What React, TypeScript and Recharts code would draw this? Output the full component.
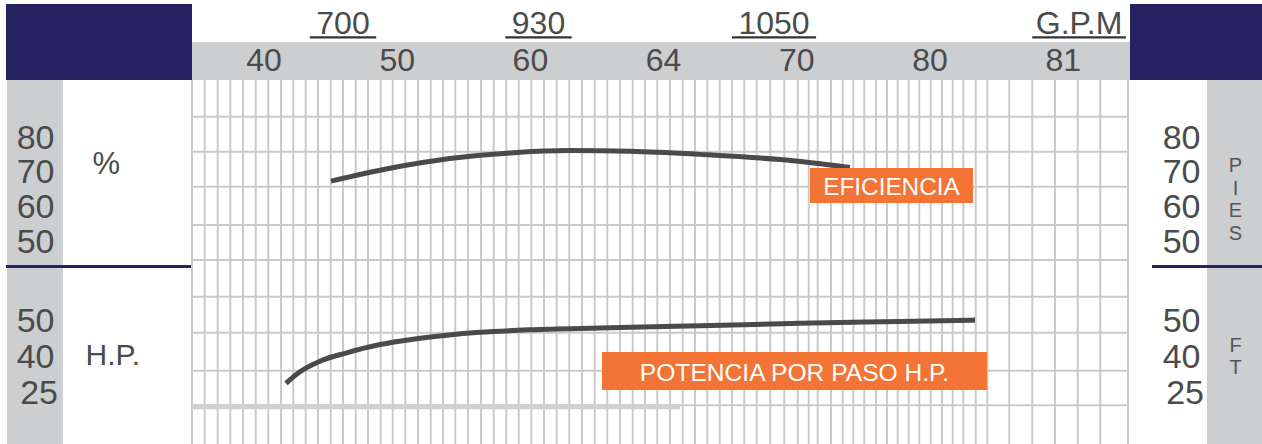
import React from 'react';
import { ComposedChart, Line, XAxis, YAxis, CartesianGrid, ReferenceLine } from 'recharts';

// ---------- data ----------
const flowTickLabels = ['40', '50', '60', '64', '70', '80', '81'];
const flowTickPositions = [0, 1, 2, 3, 4, 5, 6];

const gpmTickLabels = ['700', '930', '1050', 'G.P.M'];
const gpmTickPositions = [0.593, 2.061, 3.829, 6.119];

const effTicks = [50, 60, 70, 80];
const hpTickValues = [25, 40, 50];
const hpTickRows = [0, 1, 2];

const rightUpperTitle = 'PIES';
const rightLowerTitle = 'FT';
const effUnit = '%';
const hpUnit = 'H.P.';
const effName = 'EFICIENCIA';
const hpName = 'POTENCIA POR PASO H.P.';

const effCurve = [
  { x: 0.503, eff: 67.0 },
  { x: 0.946, eff: 70.7 },
  { x: 1.396, eff: 73.5 },
  { x: 1.847, eff: 75.1 },
  { x: 2.297, eff: 75.8 },
  { x: 2.748, eff: 75.6 },
  { x: 3.273, eff: 74.7 },
  { x: 3.874, eff: 73.2 },
  { x: 4.399, eff: 70.9 },
];

const hpCurve = [
  { x: 0.165, hp: 28.2 },
  { x: 0.27, hp: 33.0 },
  { x: 0.42, hp: 37.4 },
  { x: 0.621, hp: 40.6 },
  { x: 0.871, hp: 42.9 },
  { x: 1.119, hp: 44.4 },
  { x: 1.372, hp: 45.5 },
  { x: 1.622, hp: 46.3 },
  { x: 1.997, hp: 47.0 },
  { x: 2.523, hp: 47.5 },
  { x: 3.273, hp: 48.1 },
  { x: 4.024, hp: 48.8 },
  { x: 4.775, hp: 49.3 },
  { x: 5.338, hp: 49.7 },
];

const gridColumns = [
  -0.5405, -0.4452, -0.3476, -0.253, -0.1577, -0.0623, 0.0323, 0.1276, 0.22, 0.3131,
  0.4054, 0.5008, 0.5931, 0.6884, 0.7808, 0.8761, 0.9662, 1.0608, 1.1562, 1.2515,
  1.3438, 1.4362, 1.5315, 1.6291, 1.7245, 1.8191, 1.9122, 2.0068, 2.1021, 2.1974,
  2.292, 2.3874, 2.4827, 2.5773, 2.6727, 2.768, 2.8604, 2.9527, 3.048, 3.1434,
  3.2357, 3.3281, 3.4212, 3.5135, 3.6059, 3.699, 3.8011, 3.9062, 4.0068, 4.0893,
  4.1569, 4.2568, 4.3446, 4.4242, 4.5068, 4.5946, 4.6772, 4.7575, 4.8401, 4.9197,
  5.0053, 5.0901, 5.1704, 5.25, 5.3431, 5.4302, 5.5953, 5.768, 5.9384, 6.1089,
  6.2785, 6.4865,
];
const gridRows = [85.57, 75.47, 65.38, 54.33, 44.23, 33.65, 23.26, 12.3, 2.35];
const baseBandY = 1.92;
const baseBandX = [-0.5405, 3.123];

// ---------- scales / helpers ----------
const X_DOMAIN: [number, number] = [-0.5405, 6.4865];
const EFF_DOMAIN: [number, number] = [-8.846, 96.154];
const ROW_DOMAIN: [number, number] = [-1.4722, 8.6389];

const hpToRow = (v: number) => {
  const t = hpTickValues;
  let i = 0;
  while (i < t.length - 2 && v > t[i + 1]) i++;
  return i + (v - t[i]) / (t[i + 1] - t[i]);
};
const hpRowsData = hpCurve.map((d) => ({ x: d.x, row: hpToRow(d.hp) }));

const FONT = '"Liberation Sans", Arial, Helvetica, sans-serif';
const INK = '#4b4b4b';
const NAVY = '#262262';
const GRAY = '#cdcecf';
const ORANGE = '#F37435';

const charW: Record<string, number> = { '.': 0.278, G: 0.778, P: 0.667, M: 0.833 };
const textWidth = (s: string, fs: number) =>
  s.split('').reduce((a, c) => a + (charW[c] ?? 0.556), 0) * fs;

// ---------- ticks ----------
const FlowTick = (props: any) => {
  const { x, payload } = props;
  const i = flowTickPositions.indexOf(payload.value);
  return (
    <text x={x} y={71} textAnchor="middle" fontSize={32} fontFamily={FONT} fill={INK}>
      {flowTickLabels[i] ?? ''}
    </text>
  );
};

const GpmTick = (props: any) => {
  const { x, payload } = props;
  const i = gpmTickPositions.indexOf(payload.value);
  const label = gpmTickLabels[i] ?? '';
  const pad = /^\d+$/.test(label) ? 13 : 3;
  const w = textWidth(label, 32) + pad;
  return (
    <g>
      <text x={x} y={34.3} textAnchor="middle" fontSize={32} fontFamily={FONT} fill={INK}>
        {label}
      </text>
      <line x1={x - w / 2} x2={x + w / 2} y1={37.4} y2={37.4} stroke="#333" strokeWidth={2.2} />
    </g>
  );
};

const makeSideTick = (anchorX: number, kind: 'eff' | 'hp') => (props: any) => {
  const { y, payload } = props;
  let label = '';
  let nudge = 0;
  if (kind === 'eff') label = String(payload.value);
  else {
    const i = hpTickRows.indexOf(payload.value);
    label = String(hpTickValues[i]);
    if (i === 0) nudge = 3.5;
  }
  return (
    <text x={anchorX + nudge} y={y + 12.5} textAnchor="end" fontSize={34} fontFamily={FONT} fill={INK}>
      {label}
    </text>
  );
};
const LeftEffTick = makeSideTick(54.5, 'eff');
const LeftHpTick = makeSideTick(54.5, 'hp');
const RightEffTick = makeSideTick(1200.5, 'eff');
const RightHpTick = makeSideTick(1200.5, 'hp');

const box = (l: number, t: number, w: number, h: number, bg: string): React.CSSProperties => ({
  position: 'absolute',
  left: l,
  top: t,
  width: w,
  height: h,
  background: bg,
});

export default function App() {
  const W = 1262;
  const H = 444;
  return (
    <div style={{ position: 'absolute', left: 0, top: 0, width: W, height: H, background: '#fff', overflow: 'hidden' }}>
      <div style={box(6, 4, 186, 76, NAVY)} />
      <div style={box(1130, 4, 132, 76, NAVY)} />
      <div style={box(192, 42, 938, 38, GRAY)} />
      <div style={box(7, 80, 56, 364, GRAY)} />
      <div style={box(1207, 80, 55, 364, GRAY)} />
      <div style={box(6, 265, 186, 3, NAVY)} />
      <div style={box(1152, 265, 110, 3, NAVY)} />

      <div style={{ position: 'absolute', left: 0, top: 0 }}>
        <ComposedChart width={W} height={H} margin={{ top: 42, right: 0, bottom: 0, left: 0 }}>
          <XAxis xAxisId="gridX" type="number" dataKey="x" domain={X_DOMAIN} ticks={gridColumns} hide allowDataOverflow interval={0} />
          <YAxis yAxisId="gridY" type="number" domain={EFF_DOMAIN} ticks={gridRows} hide allowDataOverflow interval={0} />
          <CartesianGrid xAxisId="gridX" yAxisId="gridY" stroke="#cacaca" strokeWidth={2} syncWithTicks />
          <ReferenceLine
            xAxisId="gridX"
            yAxisId="gridY"
            segment={[{ x: baseBandX[0], y: baseBandY }, { x: baseBandX[1], y: baseBandY }]}
            stroke="#d0d0d0"
            strokeWidth={5}
            ifOverflow="visible"
          />
          <XAxis
            xAxisId="flow"
            orientation="top"
            type="number"
            dataKey="x"
            domain={X_DOMAIN}
            ticks={flowTickPositions}
            height={38}
            axisLine={false}
            tickLine={false}
            interval={0}
            allowDataOverflow
            tick={FlowTick}
          />
          <XAxis
            xAxisId="gpm"
            orientation="top"
            mirror
            type="number"
            dataKey="x"
            domain={X_DOMAIN}
            ticks={gpmTickPositions}
            axisLine={false}
            tickLine={false}
            interval={0}
            allowDataOverflow
            tick={GpmTick}
          />
          <YAxis yAxisId="eff" orientation="left" width={192} type="number" domain={EFF_DOMAIN} ticks={effTicks}
            axisLine={false} tickLine={false} interval={0} allowDataOverflow tick={LeftEffTick} />
          <YAxis yAxisId="hp" orientation="left" mirror type="number" domain={ROW_DOMAIN} ticks={hpTickRows}
            axisLine={false} tickLine={false} interval={0} allowDataOverflow tick={LeftHpTick} />
          <YAxis yAxisId="pies" orientation="right" width={134} type="number" domain={EFF_DOMAIN} ticks={effTicks}
            axisLine={false} tickLine={false} interval={0} allowDataOverflow tick={RightEffTick} />
          <YAxis yAxisId="ft" orientation="right" mirror type="number" domain={ROW_DOMAIN} ticks={hpTickRows}
            axisLine={false} tickLine={false} interval={0} allowDataOverflow tick={RightHpTick} />
          <Line xAxisId="flow" yAxisId="eff" data={effCurve} dataKey="eff" type="monotone" stroke="#4a4a4a"
            strokeWidth={5} dot={false} activeDot={false} isAnimationActive={false} />
          <Line xAxisId="flow" yAxisId="hp" data={hpRowsData} dataKey="row" type="monotone" stroke="#4a4a4a"
            strokeWidth={5} dot={false} activeDot={false} isAnimationActive={false} />
        </ComposedChart>
      </div>

      <svg width={W} height={H} style={{ position: 'absolute', left: 0, top: 0, pointerEvents: 'none' }} fontFamily={FONT}>
        <text x={92.5} y={174} fontSize={31} fill={INK}>{effUnit}</text>
        <text x={85.5} y={365} fontSize={30} fill={INK}>{hpUnit}</text>
        <text fontSize={20} fill="#555" textAnchor="middle">
          {rightUpperTitle.split('').map((c, i) => (
            <tspan key={i} x={1235.5} y={172 + i * 22.5}>{c}</tspan>
          ))}
        </text>
        <text fontSize={20} fill="#555" textAnchor="middle">
          {rightLowerTitle.split('').map((c, i) => (
            <tspan key={i} x={1235.5} y={352 + i * 22}>{c}</tspan>
          ))}
        </text>
        <rect x={810} y={168} width={163} height={35} fill={ORANGE} />
        <text x={891.5} y={195} fontSize={24.3} fill="#fff" textAnchor="middle">{effName}</text>
        <rect x={602} y={352} width={385} height={38} fill={ORANGE} />
        <text x={794.5} y={380.7} fontSize={24.6} fill="#fff" textAnchor="middle">{hpName}</text>
      </svg>
    </div>
  );
}
